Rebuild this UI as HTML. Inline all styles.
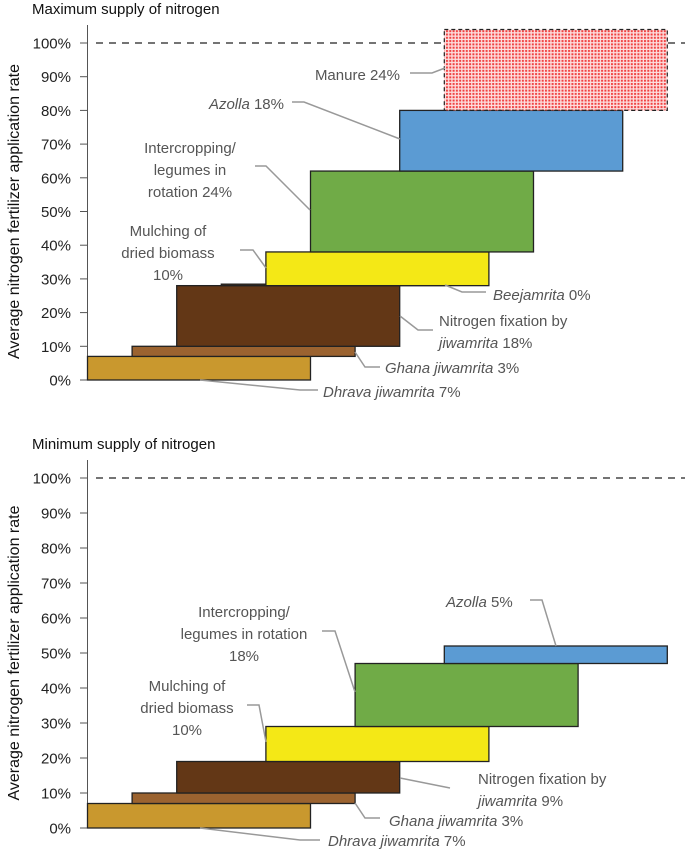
<!DOCTYPE html>
<html><head><meta charset="utf-8"><style>
html,body{margin:0;padding:0;background:#fff;}
svg{display:block;font-family:"Liberation Sans",sans-serif;}
.lbl{fill:#555;font-size:15px;}
.tick{fill:#222;font-size:15px;}
.lead{stroke:#999;stroke-width:1.5;fill:none;}
</style></head><body>
<svg id="chart" width="685" height="851" viewBox="0 0 685 851">
<defs>
<pattern id="dots" width="3.3" height="3.3" patternUnits="userSpaceOnUse">
<rect width="3.3" height="3.3" fill="#fde0e0"/><rect x="0.5" y="0.5" width="2" height="2" fill="#f04040"/>
</pattern>
</defs>
<g id="top"></g>
<g id="bot"></g>
</svg>
<script>
const ticks = ["0%","10%","20%","30%","40%","50%","60%","70%","80%","90%","100%"];
const topNames = ["Dhrava jiwamrita","Ghana jiwamrita","Nitrogen fixation by jiwamrita","Beejamrita","Mulching of dried biomass","Intercropping/legumes in rotation","Azolla","Manure"];
const topSlots = [0,1,2,3,4,5,7,8];
const topValues = [7,3,18,0,10,24,18,24];
const botNames = ["Dhrava jiwamrita","Ghana jiwamrita","Nitrogen fixation by jiwamrita","Mulching of dried biomass","Intercropping/legumes in rotation","Azolla"];
const botSlots = [0,1,2,4,6,8];
const botValues = [7,3,9,10,18,5];
const colors = {"Dhrava jiwamrita":"#c9982e","Ghana jiwamrita":"#9b6330","Nitrogen fixation by jiwamrita":"#633716","Beejamrita":"#633716","Mulching of dried biomass":"#f4e816","Intercropping/legumes in rotation":"#70ab47","Azolla":"#5b9bd3","Manure":"url(#dots)"};

const NS="http://www.w3.org/2000/svg";
function mk(p,tag,attrs,text){const e=document.createElementNS(NS,tag);for(const k in attrs)e.setAttribute(k,attrs[k]);if(text!==undefined)e.textContent=text;p.appendChild(e);return e;}

function panel(g,y0,y100,title,names,slots,values,labels){
  const yS=v=>y0+(y100-y0)*v/100;
  const xS=s=>87.5+s*44.6;
  const bw=223;
  const t=mk(g,'text',{x:32,y:y100-29,style:'font-size:15px;fill:#111'},title);
  
  
  const ax=mk(g,'line',{x1:87.5,x2:87.5,y1:y100-18,y2:y0,stroke:'#555','stroke-width':1});
  
  
  ticks.forEach((tk,i)=>{
    const y=yS(i*10);
    mk(g,'line',{x1:80,x2:87.5,y1:y,y2:y,stroke:'#555'});
    const tt=mk(g,'text',{x:71,y:y+5.5,'text-anchor':'end',class:'tick'},tk);
    
    
  });
  const yt=mk(g,'text',{x:0,y:0,transform:`translate(19,${(y0+y100)/2}) rotate(-90)`,'text-anchor':'middle',style:'font-size:16px;fill:#111'},'Average nitrogen fertilizer application rate');
  
  
  const dl=mk(g,'line',{x1:96,x2:685,y1:y100,y2:y100,stroke:'#222','stroke-width':1.3,'stroke-dasharray':'7,6'});
  
  
  let cum=0;
  names.forEach((n,i)=>{
    const v=values[i];const x=xS(slots[i]);
    const yt_=yS(cum+v), yb=yS(cum);
    const h=Math.max(yb-yt_,1.5);
    const r=mk(g,'rect',{x:x,y:yb-h,width:bw,height:h,fill:colors[n],stroke:n==='Manure'?'#222':'#222','stroke-width':n==='Manure'?1.2:1.3,'stroke-dasharray':n==='Manure'?'4,3':'none'});
    
    
    cum+=v;
  });
  labels.forEach(L=>{
    mk(g,'polyline',{points:L.lead,class:'lead'});
    const t=mk(g,'text',{x:L.x,y:L.y,class:'lbl','text-anchor':L.a||'start'});
    
    
    L.lines.forEach((ln,j)=>{
      const ts=mk(t,'tspan',{x:L.x,dy:j?22:0});
      ln.forEach(seg=>{mk(ts,'tspan',seg[1]?{'font-style':'italic'}:{},seg[0]);});
    });
  });
}

panel(document.getElementById('top'),380,43,'Maximum supply of nitrogen',topNames,topSlots,topValues,[
 {x:400,y:80,a:'end',lines:[[["Manure 24%"]]],lead:"410,73 432,73 445,68"},
 {x:284,y:109,a:'end',lines:[[["Azolla",1],[" 18%"]]],lead:"292,102 304,102 400,139"},
 {x:190,y:153,a:'middle',lines:[[["Intercropping/"]],[["legumes in"]],[["rotation 24%"]]],lead:"255,166 266,166 310,210"},
 {x:168,y:236,a:'middle',lines:[[["Mulching of"]],[["dried biomass"]],[["10%"]]],lead:"240,250 253,250 266,268"},
 {x:493,y:300,lines:[[["Beejamrita",1],[" 0%"]]],lead:"445,285 462,292 486,292"},
 {x:439,y:326,lines:[[["Nitrogen fixation by"]],[["jiwamrita",1],[" 18%"]]],lead:"400,316 418,330 433,330"},
 {x:385,y:373,lines:[[["Ghana jiwamrita",1],[" 3%"]]],lead:"355,352 365,367 380,367"},
 {x:323,y:397,lines:[[["Dhrava jiwamrita",1],[" 7%"]]],lead:"200,380 300,390 318,390"}
]);
panel(document.getElementById('bot'),828,478,'Minimum supply of nitrogen',botNames,botSlots,botValues,[
 {x:446,y:607,lines:[[["Azolla",1],[" 5%"]]],lead:"530,600 542,600 556,646"},
 {x:244,y:617,a:'middle',lines:[[["Intercropping/"]],[["legumes in rotation"]],[["18%"]]],lead:"322,631 335,631 355,692"},
 {x:187,y:691,a:'middle',lines:[[["Mulching of"]],[["dried biomass"]],[["10%"]]],lead:"247,705 259,705 266,742"},
 {x:478,y:784,lines:[[["Nitrogen fixation by"]],[["jiwamrita",1],[" 9%"]]],lead:"400,778 450,788"},
 {x:389,y:826,lines:[[["Ghana jiwamrita",1],[" 3%"]]],lead:"355,803 365,818 380,818"},
 {x:328,y:846,lines:[[["Dhrava jiwamrita",1],[" 7%"]]],lead:"200,828 300,840 320,840"}
]);
</script>
</body></html>
